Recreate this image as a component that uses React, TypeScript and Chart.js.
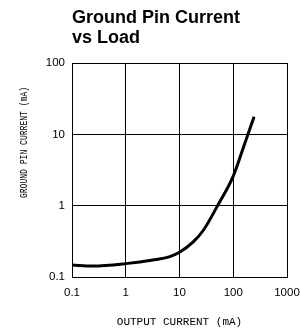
import React, { useEffect, useRef } from "react";
import { Chart, registerables } from "chart.js";

Chart.register(...registerables);

const TITLE_LINES = ["Ground Pin Current", "vs Load"];
const X_TITLE = "OUTPUT CURRENT (mA)";
const Y_TITLE = "GROUND PIN CURRENT (mA)";

const xTicks = [0.1, 1, 10, 100, 1000];
const yTicks = [0.1, 1, 10, 100];

const outputCurrent = [0.1, 0.245, 1, 3.2, 6.6, 10, 18, 28, 50, 100, 156, 244];
const groundCurrent = [0.147, 0.1426, 0.154, 0.173, 0.193, 0.222, 0.31, 0.456, 0.97, 2.6, 6.7, 17.7];

const textPlugin = {
  id: "texts",
  afterDraw(chart: any) {
    const { ctx, chartArea } = chart;
    ctx.save();
    ctx.fillStyle = "#000";
    ctx.font = 'bold 18px "Liberation Sans", Arial, sans-serif';
    ctx.textAlign = "left";
    ctx.textBaseline = "alphabetic";
    TITLE_LINES.forEach((t, i) => ctx.fillText(t, chartArea.left, 22.5 + i * 20.7));

    ctx.font = '11px "Liberation Mono", "DejaVu Sans Mono", monospace';
    ctx.textAlign = "center";
    ctx.fillText(X_TITLE, (chartArea.left + chartArea.right) / 2, 325);

    ctx.translate(27, 142.5);
    ctx.rotate(-Math.PI / 2);
    ctx.scale(0.7, 1);
    ctx.font = '11.5px "Liberation Mono", "DejaVu Sans Mono", monospace';
    ctx.fillText(Y_TITLE, 0, 0);
    ctx.restore();
  },
};

export default function App() {
  const ref = useRef<HTMLCanvasElement>(null);
  useEffect(() => {
    if (!ref.current) return;
    const chart = new Chart(ref.current, {
      type: "line",
      data: {
        datasets: [
          {
            data: outputCurrent.map((x, i) => ({ x, y: groundCurrent[i] })),
            borderColor: "#000",
            borderWidth: 3,
            pointRadius: 0,
            cubicInterpolationMode: "monotone",
            fill: false,
          },
        ],
      },
      options: {
        responsive: false,
        animation: false,
        devicePixelRatio: 1,
        layout: { padding: { left: 0, right: 14, top: 63, bottom: 0 } },
        plugins: { legend: { display: false }, tooltip: { enabled: false }, title: { display: false } },
        scales: {
          x: {
            type: "logarithmic",
            min: 0.1,
            max: 1000,
            afterBuildTicks: (s: any) => {
              s.ticks = xTicks.map((v) => ({ value: v }));
            },
            afterFit: (s: any) => {
              s.height = 54;
              s.paddingLeft = 0;
              s.paddingRight = 0;
            },
            ticks: {
              color: "#000",
              padding: 9,
              maxRotation: 0,
              autoSkip: false,
              font: { family: '"Liberation Sans", Arial, sans-serif', size: 11.5 },
              callback: (v: any) => String(v),
            },
            grid: { color: "#000", lineWidth: 1, drawTicks: false },
            border: { color: "#000", width: 1 },
          },
          y: {
            type: "logarithmic",
            min: 0.1,
            max: 100,
            afterBuildTicks: (s: any) => {
              s.ticks = yTicks.map((v) => ({ value: v }));
            },
            afterFit: (s: any) => {
              s.width = 72;
              s.paddingTop = 0;
              s.paddingBottom = 0;
            },
            ticks: {
              color: "#000",
              padding: 7,
              autoSkip: false,
              font: { family: '"Liberation Sans", Arial, sans-serif', size: 11.5 },
              callback: (v: any) => String(v),
            },
            grid: { color: "#000", lineWidth: 1, drawTicks: false },
            border: { color: "#000", width: 1 },
          },
        },
      },
      plugins: [textPlugin],
    } as any);
    return () => chart.destroy();
  }, []);
  return (
    <div style={{ position: "absolute", left: 0, top: 0, width: 301, height: 331, background: "#fff" }}>
      <canvas ref={ref} width={301} height={331} style={{ display: "block" }} />
    </div>
  );
}
